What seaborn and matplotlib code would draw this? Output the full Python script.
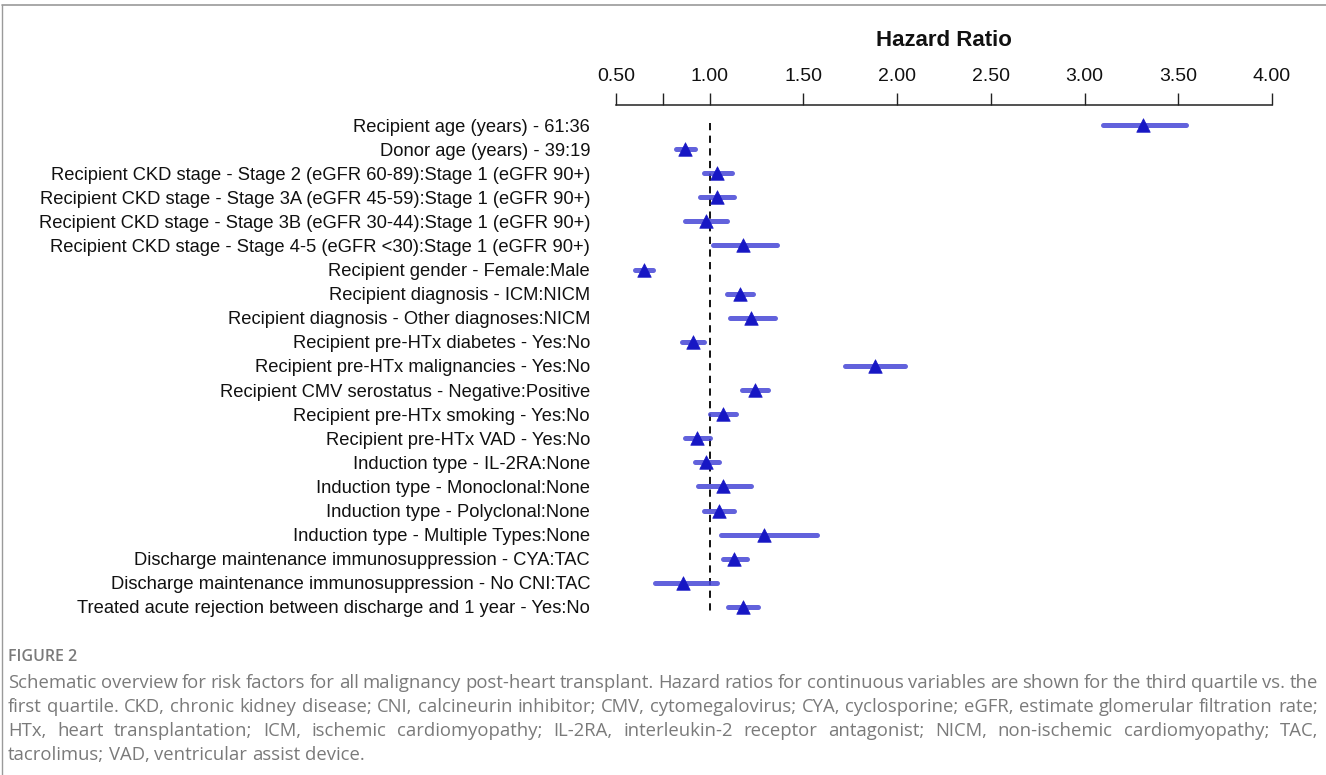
import matplotlib
matplotlib.use('Agg')
import matplotlib.pyplot as plt
import seaborn as sns
import pandas as pd
import numpy as np
from matplotlib import font_manager as fm

labels = [
    "Recipient age (years) - 61:36",
    "Donor age (years) - 39:19",
    "Recipient CKD stage - Stage 2 (eGFR 60-89):Stage 1 (eGFR 90+)",
    "Recipient CKD stage - Stage 3A (eGFR 45-59):Stage 1 (eGFR 90+)",
    "Recipient CKD stage - Stage 3B (eGFR 30-44):Stage 1 (eGFR 90+)",
    "Recipient CKD stage - Stage 4-5 (eGFR <30):Stage 1 (eGFR 90+)",
    "Recipient gender - Female:Male",
    "Recipient diagnosis - ICM:NICM",
    "Recipient diagnosis - Other diagnoses:NICM",
    "Recipient pre-HTx diabetes - Yes:No",
    "Recipient pre-HTx malignancies - Yes:No",
    "Recipient CMV serostatus - Negative:Positive",
    "Recipient pre-HTx smoking - Yes:No",
    "Recipient pre-HTx VAD - Yes:No",
    "Induction type - IL-2RA:None",
    "Induction type - Monoclonal:None",
    "Induction type - Polyclonal:None",
    "Induction type - Multiple Types:None",
    "Discharge maintenance immunosuppression - CYA:TAC",
    "Discharge maintenance immunosuppression - No CNI:TAC",
    "Treated acute rejection between discharge and 1 year - Yes:No",
]
hr = [3.31, 0.87, 1.04, 1.04, 0.98, 1.18, 0.65, 1.16, 1.22, 0.91, 1.88, 1.24,
      1.07, 0.93, 0.98, 1.07, 1.05, 1.29, 1.13, 0.86, 1.18]
lo = [3.10, 0.82, 0.97, 0.95, 0.87, 1.02, 0.60, 1.09, 1.11, 0.85, 1.72, 1.17,
      1.00, 0.87, 0.92, 0.94, 0.97, 1.06, 1.07, 0.71, 1.10]
hi = [3.54, 0.92, 1.12, 1.13, 1.09, 1.36, 0.70, 1.23, 1.35, 0.97, 2.04, 1.31,
      1.14, 1.00, 1.05, 1.22, 1.13, 1.57, 1.20, 1.04, 1.26]
xticks = [0.5, 0.75, 1.0, 1.5, 2.0, 2.5, 3.0, 3.5, 4.0]
xticklabels = ['0.50', '', '1.00', '1.50', '2.00', '2.50', '3.00', '3.50', '4.00']

caption_head = "FIGURE 2"
caption_lines = [
    "Schematic overview for risk factors for all malignancy post-heart transplant. Hazard ratios for continuous variables are shown for the third quartile vs. the",
    "first quartile. CKD, chronic kidney disease; CNI, calcineurin inhibitor; CMV, cytomegalovirus; CYA, cyclosporine; eGFR, estimate glomerular filtration rate;",
    "HTx, heart transplantation; ICM, ischemic cardiomyopathy; IL-2RA, interleukin-2 receptor antagonist; NICM, non-ischemic cardiomyopathy; TAC,",
    "tacrolimus; VAD, ventricular assist device.",
]

sns.set_theme(style='white')
plt.rcParams['font.family'] = ['Liberation Sans', 'DejaVu Sans']

names = {f.name for f in fm.fontManager.ttflist}
narrow = 'Liberation Sans Narrow' if 'Liberation Sans Narrow' in names else 'Liberation Sans'

W, H = 1326, 775
fig = plt.figure(figsize=(W / 100, H / 100), dpi=100)
ax = fig.add_axes([616 / W, 1 - 620 / H, 656 / W, (620 - 105) / H])

df = pd.DataFrame({'label': labels, 'hr': hr, 'lo': lo, 'hi': hi,
                   'pos': np.arange(len(labels))})

lc = ax.hlines(df['pos'], df['lo'], df['hi'], color='#4646d6', alpha=0.85,
               lw=3.6, zorder=2)
lc.set_capstyle('round')
sns.scatterplot(data=df, x='hr', y='pos', marker='^', s=95, color='#1717c4',
                edgecolor='#1717c4', linewidth=0.5, ax=ax, zorder=3,
                clip_on=False, legend=False)
ax.plot([1.0, 1.0], [-0.1, 20.15], color='black', lw=1.3,
        ls=(0, (4, 3)), zorder=1)

ax.set_xlim(0.5, 4.0)
ax.set_ylim(20.54, -0.83)
for s in ['bottom', 'left', 'right']:
    ax.spines[s].set_visible(False)
ax.spines['top'].set_color('#222222')
ax.spines['top'].set_linewidth(1.1)
ax.xaxis.tick_top()
ax.set_xticks(xticks)
ax.set_xticklabels(xticklabels, fontfamily=narrow)
ax.tick_params(axis='x', direction='out', length=8.6, width=1.0,
               color='#222222', pad=6, labelsize=14, labelcolor='#111111',
               top=True, bottom=False)
ax.set_yticks(df['pos'])
ax.set_yticklabels(df['label'])
ax.tick_params(axis='y', length=0, pad=18.7, labelsize=13.2, labelcolor='#111111')
ax.set_xlabel('')
ax.set_ylabel('')
ax.grid(False)

fig.text(944 / W, 1 - 40 / H, 'Hazard Ratio', ha='center', va='center',
         fontsize=16, fontweight='bold', fontfamily=narrow, color='#111111')

# frame
fig.add_artist(plt.Line2D([2 / W, 1], [1 - 5 / H, 1 - 5 / H], color='#9a9a9a', lw=1.2))
fig.add_artist(plt.Line2D([2 / W, 2 / W], [0, 1 - 5 / H], color='#9a9a9a', lw=1.0))

# caption
cap_font = ['Open Sans', 'DejaVu Sans']
cap_col = '#7a7a7a'
fig.text(8 / W, 1 - 657 / H, caption_head, ha='left', va='center',
         fontsize=11.5, fontweight='semibold', family=cap_font, color='#7a7a7a')

fig.canvas.draw()
r = fig.canvas.get_renderer()
x0, x1 = 8, 1318
base = 12
t = fig.text(0, 0, caption_lines[1], fontsize=base, family=cap_font)
wnat = t.get_window_extent(r).width
t.remove()
fs = base * (x1 - x0 - 12) / wnat

ys = [683, 707, 731, 755]
for li, (line, y) in enumerate(zip(caption_lines, ys)):
    words = line.split(' ')
    texts = [fig.text(0, 1 - y / H, w, fontsize=fs, family=cap_font,
                      color=cap_col, va='center', ha='left') for w in words]
    widths = [tt.get_window_extent(r).width for tt in texts]
    if li < len(caption_lines) - 1:
        gap = (x1 - x0 - sum(widths)) / (len(words) - 1)
    else:
        sp = fig.text(0, 0, 'a a', fontsize=fs, family=cap_font)
        sa = fig.text(0, 0, 'aa', fontsize=fs, family=cap_font)
        gap = sp.get_window_extent(r).width - sa.get_window_extent(r).width
        sp.remove(); sa.remove()
    x = x0
    for tt, w in zip(texts, widths):
        tt.set_x(x / W)
        x += w + gap

fig.savefig('out.png', dpi=100)
